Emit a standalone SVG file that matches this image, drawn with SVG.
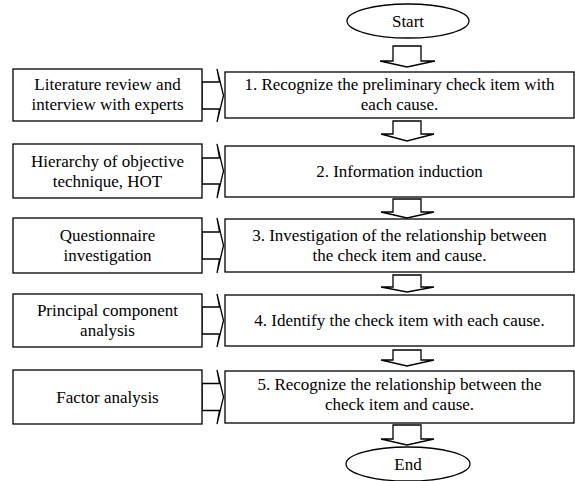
<svg xmlns="http://www.w3.org/2000/svg" width="575" height="481" viewBox="0 0 575 481">
<style>
.box{fill:#fff;stroke:#000;stroke-width:1.3}
.arr{fill:#fff;stroke:#000;stroke-width:1.3;stroke-linejoin:miter}
text{font-family:"Liberation Serif","Times New Roman","DejaVu Serif",serif;font-size:17px;fill:#000;text-anchor:middle}
</style>
<rect width="575" height="481" fill="#fff"/>
<g id="connectors">
<polygon class="arr" points="393,46 421,46 421,61 435,61 407,67 380,61 393,61"/>
<polygon class="arr" points="393,121 421,121 421,134 434,134 407,141 381,134 393,134"/>
<polygon class="arr" points="393,199 421,199 421,212 434,212 407,218 381,212 393,212"/>
<polygon class="arr" points="393,275 421,275 421,287 434,287 407,292 381,287 393,287"/>
<polygon class="arr" points="393,350 421,350 421,360 434,360 407,366 381,360 393,360"/>
<polygon class="arr" points="393,425 421,425 421,439 434,439 407,445 381,439 393,439"/>
<polygon class="arr" points="202,82 219.5,82 217,69 223.5,95.5 217,122 219.5,109 202,109"/>
<polygon class="arr" points="202,158 219.5,158 217,144 223.5,171 217,198 219.5,184 202,184"/>
<polygon class="arr" points="202,232 219.5,232 217,218 223.5,245.5 217,273 219.5,259 202,259"/>
<polygon class="arr" points="202,307 219.5,307 217,294 223.5,320.5 217,347 219.5,334 202,334"/>
<polygon class="arr" points="202,383.5 219.5,383.5 217,370 223.5,397 217,424 219.5,410.5 202,410.5"/>
</g>
<g id="start"><ellipse class="box" cx="408" cy="21" rx="61" ry="17"/><text x="408" y="27">Start</text></g>
<g id="end"><ellipse class="box" cx="408" cy="464" rx="62" ry="17"/><text x="408" y="470">End</text></g>
<g id="left1"><rect class="box" x="13" y="69" width="189" height="52"/><text x="107.5" y="90">Literature review and</text><text x="107.5" y="110">interview with experts</text></g>
<g id="step1"><rect class="box" x="225" y="72" width="349" height="46"/><text x="399.5" y="90">1. Recognize the preliminary check item with</text><text x="399.5" y="110">each cause.</text></g>
<g id="left2"><rect class="box" x="13" y="144" width="189" height="54"/><text x="107.5" y="167">Hierarchy of objective</text><text x="107.5" y="187">technique, HOT</text></g>
<g id="step2"><rect class="box" x="225" y="146" width="349" height="51"/><text x="399.5" y="177">2. Information induction</text></g>
<g id="left3"><rect class="box" x="13" y="218" width="189" height="55"/><text x="107.5" y="241">Questionnaire</text><text x="107.5" y="261">investigation</text></g>
<g id="step3"><rect class="box" x="225" y="219" width="349" height="53"/><text x="399.5" y="241">3. Investigation of the relationship between</text><text x="399.5" y="261">the check item and cause.</text></g>
<g id="left4"><rect class="box" x="13" y="294" width="189" height="53"/><text x="107.5" y="316">Principal component</text><text x="107.5" y="336">analysis</text></g>
<g id="step4"><rect class="box" x="225" y="295" width="349" height="51"/><text x="399.5" y="326">4. Identify the check item with each cause.</text></g>
<g id="left5"><rect class="box" x="13" y="370" width="189" height="54"/><text x="107.5" y="403">Factor analysis</text></g>
<g id="step5"><rect class="box" x="225" y="371" width="349" height="52"/><text x="399.5" y="390">5. Recognize the relationship between the</text><text x="399.5" y="410">check item and cause.</text></g>
</svg>
